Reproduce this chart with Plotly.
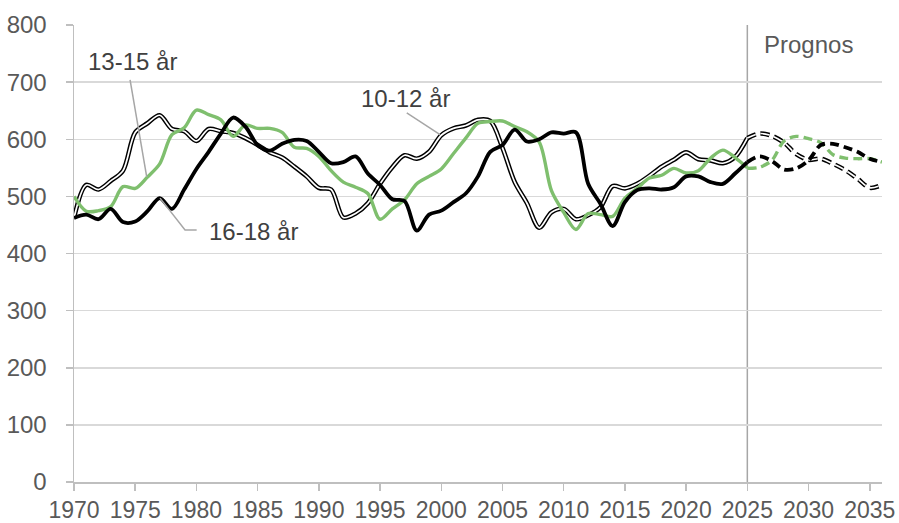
import plotly.graph_objects as go

# ---- data ----
years_hist = list(range(1970, 2026))
years_fc = list(range(2025, 2037))

age_10_12 = [462, 520, 512, 527, 545, 612, 628, 642, 618, 614,
             597, 618, 614, 611, 602, 590, 577, 568, 552, 535,
             515, 512, 463, 470, 488, 522, 551, 572, 566, 578,
             607, 619, 624, 634, 632, 585, 525, 488, 445, 472,
             478, 460, 467, 481, 518, 514, 522, 536, 552, 564,
             577, 565, 563, 558, 569, 602]
age_13_15 = [500, 474, 475, 482, 517, 514, 534, 557, 608, 620,
             651, 643, 634, 605, 625, 619, 619, 612, 586, 584,
             570, 545, 525, 516, 505, 460, 478, 494, 522, 535,
             548, 575, 602, 628, 631, 632, 622, 613, 595, 510,
             472, 442, 470, 468, 465, 497, 514, 532, 537, 549,
             541, 545, 567, 581, 568, 550]
age_16_18 = [462, 468, 460, 478, 455, 456, 474, 497, 478, 512,
             548, 578, 610, 638, 622, 590, 580, 592, 599, 597,
             578, 558, 560, 570, 540, 520, 495, 492, 440, 468,
             475, 490, 505, 535, 578, 590, 617, 596, 600, 612,
             610, 612, 522, 487, 448, 490, 511, 514, 512, 516,
             535, 535, 525, 522, 540, 560]

fc_10_12 = [602, 610, 606, 594, 574, 564, 566, 557, 546, 531, 515, 520]
fc_13_15 = [549, 551, 563, 597, 605, 601, 594, 573, 567, 566, 566, 560]
fc_16_18 = [560, 570, 562, 547, 549, 563, 590, 592, 586, 578, 566, 560]

x_ticks = list(range(1970, 2036, 5))
y_ticks = list(range(0, 801, 100))

GREEN = "#7fbf6e"
BLACK = "#000000"
FONT = "Liberation Sans, Arial, sans-serif"
FS = 24

fig = go.Figure()

def add(x, y, color, width, dash="solid"):
    fig.add_trace(go.Scatter(
        x=x, y=y, mode="lines",
        line=dict(color=color, width=width, dash=dash, shape="spline", smoothing=0.9),
        hoverinfo="skip", showlegend=False))

DASH = "9px,5px"
# 10-12 år: double line (black outline + white core)
add(years_hist, age_10_12, BLACK, 4.6)
add(years_hist, age_10_12, "white", 1.7)
add(years_fc, fc_10_12, BLACK, 4.6, DASH)
add(years_fc, fc_10_12, "white", 1.7, DASH)
# 13-15 år: green
add(years_hist, age_13_15, GREEN, 3.4)
add(years_fc, fc_13_15, GREEN, 3.4, DASH)
# 16-18 år: black thick
add(years_hist, age_16_18, BLACK, 3.8)
add(years_fc, fc_16_18, BLACK, 3.8, DASH)

shapes = [
    dict(type="line", xref="x", yref="y", x0=2025, x1=2025, y0=0, y1=800,
         line=dict(color="#a6a6a6", width=1.5), layer="below"),
    dict(type="line", xref="x", yref="y", x0=1974.58, y0=704, x1=1975.94, y1=534,
         line=dict(color="#a6a6a6", width=1.5)),
    dict(type="path", xref="x", yref="y",
         path="M 1977.03 497 L 1979.07 441 L 1980.02 441",
         line=dict(color="#a6a6a6", width=1.5)),
    dict(type="line", xref="x", yref="y", x0=1997.18, y0=646, x1=1999.90, y1=608,
         line=dict(color="#a6a6a6", width=1.5)),
]

annotations = [
    dict(x=1974.75, y=736, text="13-15 år", xref="x", yref="y", showarrow=False,
         xanchor="center", yanchor="middle", font=dict(size=FS, color="#404040", family=FONT)),
    dict(x=1980.84, y=438, text="16-18 år", xref="x", yref="y", showarrow=False,
         xanchor="left", yanchor="middle", font=dict(size=FS, color="#404040", family=FONT)),
    dict(x=1997.08, y=672, text="10-12 år", xref="x", yref="y", showarrow=False,
         xanchor="center", yanchor="middle", font=dict(size=FS, color="#404040", family=FONT)),
    dict(x=2026.2, y=765, text="Prognos", xref="x", yref="y", showarrow=False,
         xanchor="left", yanchor="middle", font=dict(size=FS, color="#595959", family=FONT)),
]

fig.update_layout(
    width=899, height=523,
    margin=dict(l=74, r=17, t=25, b=41),
    paper_bgcolor="white", plot_bgcolor="white",
    font=dict(family=FONT, size=FS, color="#595959"),
    shapes=shapes, annotations=annotations,
    xaxis=dict(range=[1970, 2036], tickvals=x_ticks, ticktext=[str(v) for v in x_ticks],
               automargin=False,
               showgrid=False, zeroline=False, showline=True, linecolor="#bfbfbf",
               linewidth=1.5, ticks="outside", ticklen=7, tickcolor="#bfbfbf",
               tickwidth=1.5, ticklabelstandoff=0,
               tickfont=dict(size=23, color="#595959", family=FONT)),
    yaxis=dict(range=[0, 800], tickvals=y_ticks, showgrid=True, gridcolor="#d9d9d9",
               automargin=False,
               gridwidth=1.5, zeroline=False, showline=True, linecolor="#bfbfbf",
               linewidth=1.5, ticks="outside", ticklen=7, tickcolor="#bfbfbf",
               tickwidth=1.5, ticklabelstandoff=14,
               tickfont=dict(size=FS, color="#595959", family=FONT)),
)

fig.write_html(
    "out.html",
    config={"displayModeBar": False, "staticPlot": True},
    post_script="document.body.style.margin='0';document.body.style.padding='0';"
                "document.body.style.overflow='hidden';",
)
